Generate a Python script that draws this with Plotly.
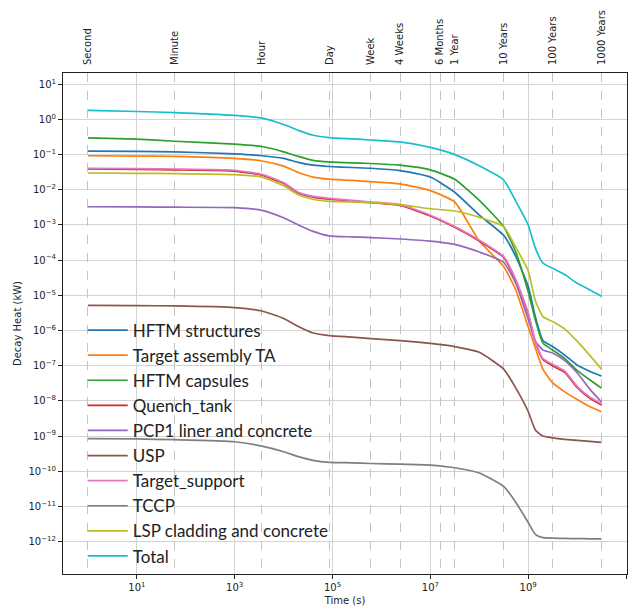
import plotly.graph_objects as go

# Cooling times (s)
times = [1, 10, 60, 1e3, 3600, 1e4, 2e4, 4e4, 86400, 2.5e5, 604800, 2.4e6,
         1e7, 3.15e7, 1e8, 3.15e8, 5.6e8, 1e9, 1.4e9, 2e9, 3.15e9, 5.6e9,
         1e10, 1.8e10, 3.15e10]

# Decay heat per component (kW)
hftm_structures = [0.125, 0.123, 0.12, 0.105, 0.093, 0.078, 0.060, 0.050, 0.046, 0.043, 0.041, 0.035,
                   0.023, 0.0085, 0.0019, 5.1e-4, 1.26e-4, 1.8e-5, 2.5e-6, 5.2e-7, 3.5e-7, 2.0e-7,
                   1.05e-7, 7.0e-8, 5.1e-8]
target_assembly = [0.093, 0.091, 0.089, 0.078, 0.066, 0.047, 0.031, 0.023, 0.020, 0.0185, 0.017, 0.0148,
                   0.0095, 0.0045, 3.5e-4, 6.6e-5, 1.4e-5, 1.26e-6, 3.2e-7, 8.0e-8, 3.3e-8, 1.8e-8,
                   1.1e-8, 6.9e-9, 4.9e-9]
hftm_capsules = [0.30, 0.275, 0.24, 0.198, 0.17, 0.12, 0.089, 0.069, 0.062, 0.058, 0.056, 0.050,
                 0.037, 0.020, 0.005, 9.0e-4, 1.66e-4, 1.26e-5, 2.0e-6, 4.4e-7, 2.8e-7, 1.6e-7,
                 7.4e-8, 4.0e-8, 2.3e-8]
quench_tank = [0.039, 0.038, 0.037, 0.034, 0.026, 0.0152, 0.0081, 0.0062, 0.0054, 0.0048, 0.0043, 0.0036,
               0.0018, 8.6e-4, 3.5e-4, 1.2e-4, 2.6e-5, 3.0e-6, 4.7e-7, 1.5e-7, 1.0e-7, 6.5e-8,
               2.4e-8, 1.2e-8, 7.6e-9]
pcp1_liner = [0.0033, 0.00327, 0.0032, 0.0031, 0.0026, 0.0016, 0.0010, 6.6e-4, 4.9e-4, 4.6e-4, 4.4e-4, 4.0e-4,
              3.5e-4, 2.8e-4, 1.7e-4, 8.7e-5, 2.2e-5, 2.1e-6, 5.0e-7, 2.8e-7, 2.3e-7, 1.4e-7,
              6.3e-8, 2.2e-8, 9.3e-9]
usp = [5.2e-6, 5.1e-6, 5.0e-6, 4.5e-6, 3.6e-6, 2.2e-6, 1.3e-6, 8.5e-7, 7.2e-7, 6.5e-7, 5.9e-7, 5.2e-7,
       4.3e-7, 3.5e-7, 2.4e-7, 8.0e-8, 2.3e-8, 5.0e-9, 1.5e-9, 1.0e-9, 8.9e-10, 8.1e-10,
       7.6e-10, 7.1e-10, 6.6e-10]
target_support = [0.041, 0.040, 0.039, 0.036, 0.0275, 0.016, 0.0085, 0.0065, 0.0057, 0.0050, 0.0045, 0.0038,
                  0.0019, 9.0e-4, 3.7e-4, 1.26e-4, 2.8e-5, 3.2e-6, 5.0e-7, 1.6e-7, 1.1e-7, 7.0e-8,
                  2.6e-8, 1.3e-8, 8.3e-9]
tccp = [8.5e-10, 8.3e-10, 7.9e-10, 6.9e-10, 5.2e-10, 3.6e-10, 2.6e-10, 2.05e-10, 1.8e-10, 1.74e-10, 1.66e-10, 1.6e-10,
        1.5e-10, 1.26e-10, 8.9e-11, 3.7e-11, 1.3e-11, 3.5e-12, 1.6e-12, 1.3e-12, 1.26e-12, 1.23e-12,
        1.22e-12, 1.2e-12, 1.2e-12]
lsp_cladding = [0.030, 0.0295, 0.029, 0.027, 0.023, 0.013, 0.0072, 0.0054, 0.0047, 0.0045, 0.0043, 0.0038,
                0.0029, 0.0025, 0.00166, 9.0e-4, 2.3e-4, 5.0e-5, 7.0e-6, 2.5e-6, 1.8e-6, 1.1e-6,
                5.0e-7, 2.0e-7, 8.0e-8]
total = [1.8, 1.68, 1.57, 1.30, 1.09, 0.72, 0.49, 0.355, 0.305, 0.28, 0.26, 0.23,
         0.16, 0.10, 0.048, 0.019, 0.0047, 1.0e-3, 2.2e-4, 8.3e-5, 5.9e-5, 3.9e-5,
         2.2e-5, 1.45e-5, 9.5e-6]

series_names = ["HFTM structures", "Target assembly TA", "HFTM capsules", "Quench_tank",
                "PCP1 liner and concrete", "USP", "Target_support", "TCCP",
                "LSP cladding and concrete", "Total"]
series_values = [hftm_structures, target_assembly, hftm_capsules, quench_tank, pcp1_liner,
                 usp, target_support, tccp, lsp_cladding, total]
colors = ["#1f77b4", "#ff7f0e", "#2ca02c", "#d62728", "#9467bd",
          "#8c564b", "#e377c2", "#7f7f7f", "#bcbd22", "#17becf"]

# Reference time markers on the top axis
marker_labels = ["Second", "Minute", "Hour", "Day", "Week", "4 Weeks",
                 "6 Months", "1 Year", "10 Years", "100 Years", "1000 Years"]
marker_times = [1, 60, 3600, 86400, 604800, 2419200,
                15778800, 31557600, 315576000, 3155760000, 31557600000]

# Bottom / left tick labels
x_tick_exps = [1, 3, 5, 7, 9, 11]
y_tick_exps = list(range(-12, 2))


def power_label(e):
    s = str(e).replace("-", "\u2212")
    return f"10<sup>{s}</sup>"


fig = go.Figure()

for name, vals, col in zip(series_names, series_values, colors):
    fig.add_trace(go.Scatter(
        x=times, y=vals, mode="lines", name=name,
        line=dict(color=col, width=1.7, shape="spline", smoothing=0.5),
    ))

# carrier for the top time-marker axis
fig.add_trace(go.Scatter(
    x=marker_times, y=[None] * len(marker_times), xaxis="x2", yaxis="y",
    mode="lines", showlegend=False, hoverinfo="skip",
))

tick_font = dict(family="DejaVu Sans", size=10, color="#222")

fig.update_layout(
    width=635, height=611,
    margin=dict(l=63, r=7, t=73, b=35),
    paper_bgcolor="white", plot_bgcolor="white",
    showlegend=True,
    legend=dict(
        x=0.035, xanchor="left", y=0.522, yanchor="top",
        bgcolor="rgba(0,0,0,0)", borderwidth=0,
        font=dict(family="Lato", size=17, color="#222"),
        itemwidth=40, tracegroupgap=0,
    ),
    xaxis=dict(
        type="log", range=[-0.51, 11.02],
        tickvals=[10 ** e for e in x_tick_exps],
        ticktext=[power_label(e) for e in x_tick_exps],
        ticks="outside", ticklen=4, tickcolor="#222",
        showgrid=True, gridcolor="#d4d4d4", gridwidth=1,
        showline=True, linecolor="#222", linewidth=1, mirror=True,
        zeroline=False, tickfont=tick_font,
        title=dict(text="Time (s)", font=dict(family="DejaVu Sans", size=10, color="#222"), standoff=4),
    ),
    xaxis2=dict(
        type="log", range=[-0.51, 11.02], overlaying="x", side="top",
        tickvals=marker_times, ticktext=marker_labels, tickangle=-90,
        ticks="", ticklabelstandoff=7,
        showgrid=True, gridcolor="#c4c4c4", gridwidth=1, griddash="dash",
        showline=False, zeroline=False, tickfont=tick_font,
    ),
    yaxis=dict(
        type="log", range=[-12.92, 1.32],
        tickvals=[10 ** e for e in y_tick_exps],
        ticktext=[power_label(e) for e in y_tick_exps],
        ticks="outside", ticklen=4, tickcolor="#222",
        minor=dict(ticks="outside", ticklen=2, tickcolor="#444", showgrid=False),
        showgrid=True, gridcolor="#d4d4d4", gridwidth=1,
        showline=True, linecolor="#222", linewidth=1, mirror=True,
        zeroline=False, tickfont=tick_font,
        title=dict(text="Decay Heat (kW)", font=dict(family="DejaVu Sans", size=10, color="#222"), standoff=4),
    ),
)

fig.write_html("out.html")
